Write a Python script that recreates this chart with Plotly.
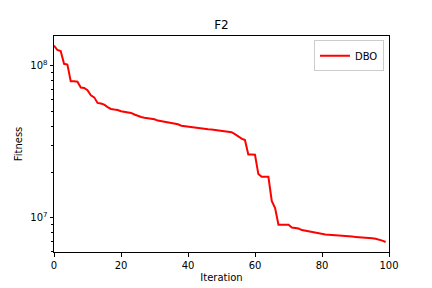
import plotly.graph_objects as go

iterations = list(range(100))
fitness = [
    1.36e8, 1.27e8, 1.25e8, 1.03e8, 1.02e8, 7.9e7, 7.9e7, 7.85e7, 7.2e7, 7.15e7,
    6.9e7, 6.4e7, 6.2e7, 5.7e7, 5.65e7, 5.55e7, 5.35e7, 5.2e7, 5.15e7, 5.12e7,
    5.02e7, 4.98e7, 4.95e7, 4.9e7, 4.78e7, 4.68e7, 4.6e7, 4.55e7, 4.53e7, 4.52e7,
    4.45e7, 4.36e7, 4.32e7, 4.3e7, 4.27e7, 4.23e7, 4.2e7, 4.12e7, 4.03e7, 4.0e7,
    3.96e7, 3.93e7, 3.92e7, 3.89e7, 3.86e7, 3.85e7, 3.83e7, 3.81e7, 3.78e7, 3.77e7,
    3.75e7, 3.72e7, 3.69e7, 3.66e7, 3.55e7, 3.43e7, 3.32e7, 3.25e7, 2.61e7, 2.61e7,
    2.6e7, 1.94e7, 1.86e7, 1.86e7, 1.86e7, 1.29e7, 1.16e7, 9.0e6, 9.0e6, 9.0e6,
    9.0e6, 8.64e6, 8.6e6, 8.5e6, 8.3e6, 8.22e6, 8.2e6, 8.08e6, 7.98e6, 7.94e6,
    7.8e6, 7.76e6, 7.74e6, 7.72e6, 7.7e6, 7.66e6, 7.63e6, 7.6e6, 7.56e6, 7.52e6,
    7.49e6, 7.47e6, 7.44e6, 7.41e6, 7.39e6, 7.34e6, 7.27e6, 7.2e6, 7.08e6, 6.93e6,
]
series_name = "DBO"
title_text = "F2"
x_label = "Iteration"
y_label = "Fitness"
x_ticks = [0, 20, 40, 60, 80, 100]
y_major = [1e7, 1e8]
y_major_text = ["10<sup>7</sup>", "10<sup>8</sup>"]
y_minor = [6e6, 7e6, 8e6, 9e6] + [k * 1e7 for k in range(2, 10)]

font = "DejaVu Sans"

fig = go.Figure()
fig.add_trace(go.Scatter(
    x=iterations, y=fitness, mode="lines", name=series_name,
    line=dict(color="red", width=2),
))

fig.update_layout(
    width=432, height=288,
    margin=dict(l=54, r=43, t=36, b=36, autoexpand=False),
    paper_bgcolor="white", plot_bgcolor="white",
    font=dict(family=font, size=10, color="black"),
    title=dict(text=title_text, x=0.5, xref="paper", xanchor="center",
               y=1 - 25 / 288, yref="container", yanchor="middle",
               font=dict(size=12, family=font, color="black")),
    showlegend=True,
    legend=dict(x=0.985, y=0.98, xanchor="right", yanchor="top",
                bordercolor="#cccccc", borderwidth=1, bgcolor="white",
                font=dict(size=10, family=font), tracegroupgap=0),
)

fig.update_xaxes(
    range=[0, 100], tickvals=x_ticks, showgrid=False, zeroline=False,
    showline=True, linecolor="black", linewidth=1, mirror=True,
    ticks="outside", ticklen=3.5, tickwidth=1, tickcolor="black",
    automargin=False,
    title=dict(text=x_label, standoff=4, font=dict(size=10)),
)
fig.update_yaxes(
    type="log", range=[6.775, 8.196],
    tickmode="array", tickvals=y_major, ticktext=y_major_text,
    showgrid=False, zeroline=False,
    showline=True, linecolor="black", linewidth=1, mirror=True,
    ticks="outside", ticklen=3.5, tickwidth=1, tickcolor="black",
    automargin=False,
    minor=dict(tickmode="array", tickvals=y_minor, ticks="outside",
               ticklen=2, tickwidth=0.8, tickcolor="black", showgrid=False),
    title=dict(text=y_label, standoff=5, font=dict(size=10)),
)

fig.write_html("out.html")
